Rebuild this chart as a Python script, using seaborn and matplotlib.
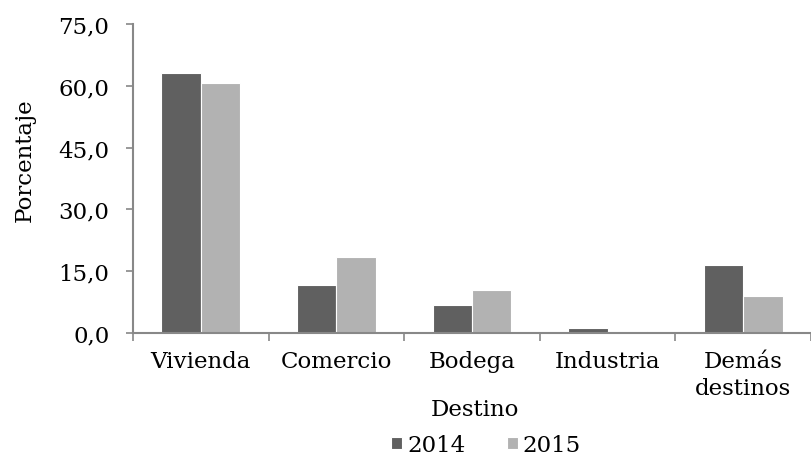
import pandas as pd
import numpy as np
import matplotlib
matplotlib.use("Agg")
import matplotlib.pyplot as plt
import seaborn as sns

# Data
destinos = ["Vivienda", "Comercio", "Bodega", "Industria", "Demás\ndestinos"]
valores_2014 = [63.2, 11.7, 6.8, 1.1, 16.5]
valores_2015 = [60.8, 18.4, 10.4, 0.6, 9.0]
anios = ["2014", "2015"]
colores = ["#606060", "#b2b2b2"]
yticks = [0, 15, 30, 45, 60, 75]

df = pd.DataFrame({
    "Destino": destinos * 2,
    "Porcentaje": valores_2014 + valores_2015,
    "Año": [anios[0]] * len(destinos) + [anios[1]] * len(destinos),
})

sns.set_style("white")
plt.rcParams["font.family"] = ["DejaVu Serif"]
plt.rcParams["text.color"] = "black"
plt.rcParams["xtick.color"] = "black"
plt.rcParams["ytick.color"] = "black"
plt.rcParams["axes.labelcolor"] = "black"

fs = 16.5

fig = plt.figure(figsize=(8.11, 4.56), dpi=100)
ax = fig.add_axes([133 / 811, 1 - 334 / 456, 678 / 811, 309 / 456])

sns.barplot(
    data=df, x="Destino", y="Porcentaje", hue="Año",
    palette=colores, width=0.58, edgecolor="white", linewidth=0.8,
    saturation=1, ax=ax,
)

gris = "#888888"
ax.set_ylim(0, 75)
ax.set_xlim(-0.5, 4.5)
ax.set_yticks(yticks)
ax.set_yticklabels([f"{v:.1f}".replace(".", ",") for v in yticks], fontsize=fs)
ax.tick_params(axis="y", left=True, length=5, width=1.2, color=gris, pad=12)
ax.tick_params(axis="x", which="major", length=0, labelsize=fs, pad=12)
for lbl in ax.get_xticklabels():
    lbl.set_linespacing(1.3)
ax.set_xticks(np.arange(-0.5, 5, 1), minor=True)
ax.tick_params(axis="x", which="minor", bottom=True, length=6, width=1.2, color=gris)

for s in ["top", "right"]:
    ax.spines[s].set_visible(False)
for s in ["left", "bottom"]:
    ax.spines[s].set_color(gris)
    ax.spines[s].set_linewidth(1.5)

ax.set_xlabel("Destino", fontsize=fs)
ax.set_ylabel("Porcentaje", fontsize=fs)
ax.xaxis.set_label_coords(0.505, (334 - 410) / 309, transform=ax.transAxes)
ax.xaxis.label.set_va("center")
ax.yaxis.set_label_coords(-(133 - 25) / 678, (334 - 160) / 309)
ax.yaxis.label.set_va("center")

handles, labels = ax.get_legend_handles_labels()
ax.legend(handles, labels, loc="center", bbox_to_anchor=(486 / 811, 1 - 446 / 456),
          bbox_transform=fig.transFigure, ncol=2, frameon=False, fontsize=fs,
          handlelength=0.48, handleheight=0.4, handletextpad=0.22, columnspacing=1.8,
          borderpad=0)

fig.savefig("out.png", dpi=100)
